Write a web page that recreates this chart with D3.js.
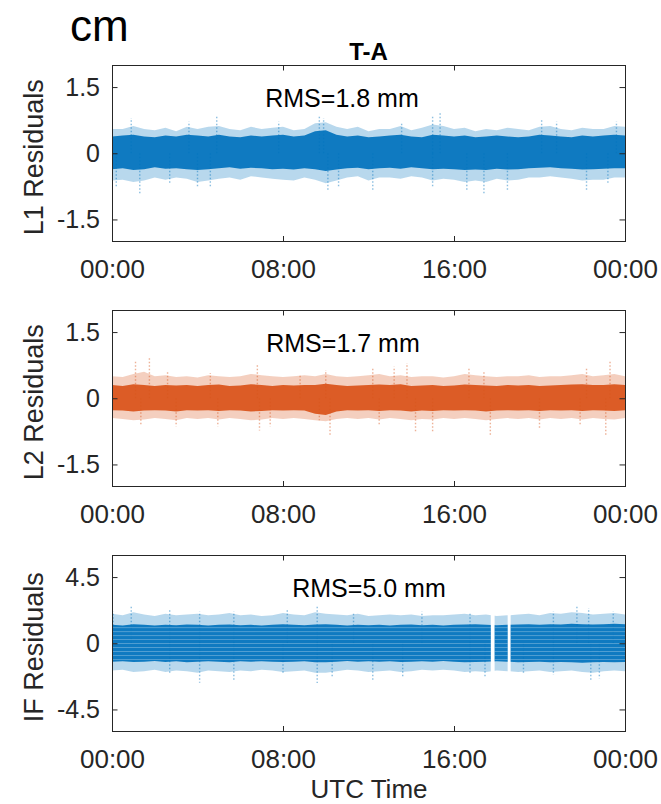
<!DOCTYPE html>
<html>
<head>
<meta charset="utf-8">
<script src="https://cdn.jsdelivr.net/npm/d3@7"></script>
<style>
  body { margin: 0; background: #fff; }
  text { font-family: "Liberation Sans", Arial, Helvetica, sans-serif; }
</style>
</head>
<body>
<svg width="661" height="804"></svg>
<script>
// half-hour time grid, hours UTC
const hours = d3.range(0, 24.5, 0.5);
const timeTicks = [0, 8, 16, 24];
const timeLabels = ["00:00", "08:00", "16:00", "00:00"];

// L1 residuals (cm): envelope of the scatter
const l1OuterHi = [.55,.55,.62,.55,.52,.58,.5,.6,.55,.6,.62,.55,.52,.6,.55,.58,.6,.52,.55,.68,.7,.6,.55,.6,.5,.55,.55,.62,.52,.58,.65,.62,.55,.58,.5,.55,.52,.58,.55,.52,.6,.62,.55,.52,.58,.55,.55,.62,.6];
const l1OuterLo = [-.62,-.6,-.65,-.62,-.55,-.6,-.55,-.58,-.65,-.62,-.58,-.55,-.6,-.52,-.55,-.58,-.6,-.62,-.55,-.6,-.68,-.62,-.55,-.52,-.62,-.55,-.55,-.58,-.52,-.55,-.62,-.58,-.6,-.65,-.62,-.65,-.58,-.62,-.6,-.55,-.55,-.52,-.55,-.58,-.62,-.6,-.6,-.55,-.55];
const l1CoreHi = [.38,.4,.42,.38,.36,.4,.38,.42,.4,.38,.42,.38,.36,.4,.38,.4,.42,.38,.4,.5,.52,.42,.38,.4,.36,.38,.4,.42,.38,.36,.42,.4,.38,.4,.36,.38,.4,.38,.36,.38,.42,.4,.38,.36,.4,.38,.4,.42,.4];
const l1CoreLo = [-.36,-.34,-.38,-.36,-.32,-.35,-.34,-.36,-.38,-.36,-.34,-.32,-.35,-.33,-.34,-.36,-.35,-.37,-.34,-.36,-.4,-.37,-.34,-.33,-.36,-.34,-.33,-.35,-.32,-.34,-.36,-.35,-.36,-.38,-.37,-.38,-.35,-.37,-.36,-.34,-.33,-.32,-.34,-.35,-.37,-.36,-.35,-.34,-.34];
const l1Spikes = [[0.9,.8],[3.6,.72],[4.9,.87],[7.8,.72],[9.7,.83],[9.9,.8],[13.55,.68],[15.0,.83],[15.35,.95],[20.1,.76],[20.8,.72],[23.6,.72],
  [0.2,-.76],[1.3,-.91],[2.7,-.68],[4.0,-.76],[4.6,-.76],[10.1,-.87],[10.6,-.76],[12.2,-.87],[15.0,-.76],[16.6,-.83],[17.4,-.91],[18.5,-.87],[22.2,-.83],[23.2,-.68]];

// L2 residuals (cm)
const l2OuterHi = [.5,.48,.55,.6,.5,.52,.48,.5,.47,.52,.5,.48,.5,.55,.52,.5,.48,.5,.52,.5,.55,.5,.48,.5,.52,.55,.5,.52,.48,.5,.5,.47,.5,.55,.52,.5,.48,.5,.5,.52,.48,.5,.5,.52,.55,.5,.52,.55,.5];
const l2OuterLo = [-.45,-.47,-.5,-.48,-.45,-.47,-.5,-.45,-.47,-.45,-.48,-.45,-.47,-.5,-.48,-.45,-.47,-.45,-.47,-.5,-.52,-.47,-.45,-.47,-.45,-.48,-.45,-.47,-.5,-.47,-.48,-.45,-.47,-.45,-.47,-.5,-.47,-.45,-.47,-.45,-.48,-.45,-.47,-.45,-.48,-.45,-.47,-.48,-.45];
const l2CoreHi = [.3,.28,.32,.3,.28,.3,.29,.3,.28,.3,.31,.28,.29,.32,.3,.28,.3,.29,.3,.3,.33,.3,.28,.29,.3,.31,.3,.32,.28,.29,.3,.28,.29,.31,.3,.29,.28,.3,.29,.3,.28,.29,.3,.31,.32,.3,.3,.32,.3];
const l2CoreLo = [-.27,-.28,-.3,-.28,-.27,-.28,-.3,-.27,-.28,-.27,-.29,-.27,-.28,-.3,-.29,-.27,-.28,-.27,-.28,-.35,-.38,-.3,-.27,-.28,-.27,-.29,-.27,-.28,-.3,-.28,-.29,-.27,-.28,-.27,-.28,-.3,-.28,-.27,-.28,-.27,-.29,-.27,-.28,-.27,-.29,-.27,-.28,-.29,-.27];
const l2Spikes = [[1.1,.87],[1.75,.92],[2.6,.6],[4.6,.57],[6.8,.76],[8.8,.53],[10.0,.64],[12.2,.68],[13.2,.72],[13.8,.8],[16.7,.68],[17.4,.6],[22.2,.68],[23.3,.83],
  [1.35,-.6],[3.0,-.64],[4.95,-.64],[6.9,-.73],[7.4,-.64],[9.7,-.5],[10.2,-.87],[12.5,-.6],[14.2,-.76],[15.0,-.76],[17.7,-.87],[20.0,-.68],[21.9,-.6],[23.1,-.83]];

// IF residuals (cm)
const ifOuterHi = [2.0,1.9,2.1,1.95,1.85,2.0,1.9,1.95,2.0,1.9,1.95,2.05,1.9,1.95,1.85,1.9,2.05,1.95,1.9,2.1,2.0,1.95,1.9,2.0,1.85,1.9,1.95,1.9,1.95,1.85,1.9,1.9,1.95,2.0,1.9,1.95,1.85,1.9,1.95,2.0,1.9,2.05,2.0,2.1,2.05,1.95,2.0,2.05,1.95];
const ifOuterLo = [-1.85,-1.8,-1.95,-1.9,-1.8,-1.95,-1.85,-1.9,-2.0,-1.85,-1.9,-1.95,-1.85,-1.9,-1.8,-1.85,-1.95,-1.9,-1.85,-2.0,-2.0,-1.9,-1.8,-1.85,-1.95,-1.9,-1.85,-1.95,-1.9,-1.8,-1.85,-1.8,-1.85,-1.95,-1.9,-1.95,-1.85,-1.9,-1.95,-1.9,-1.85,-1.95,-1.9,-1.85,-1.95,-2.0,-1.9,-1.85,-1.9];
const ifCoreHi = [1.25,1.2,1.3,1.25,1.2,1.25,1.22,1.28,1.25,1.2,1.25,1.28,1.22,1.25,1.2,1.25,1.3,1.25,1.22,1.28,1.3,1.25,1.2,1.25,1.22,1.25,1.2,1.25,1.28,1.22,1.25,1.2,1.25,1.28,1.3,1.25,1.22,1.25,1.28,1.3,1.25,1.3,1.28,1.32,1.3,1.28,1.3,1.32,1.3];
const ifCoreLo = [-1.25,-1.22,-1.28,-1.25,-1.2,-1.28,-1.22,-1.3,-1.25,-1.22,-1.25,-1.3,-1.22,-1.25,-1.22,-1.25,-1.28,-1.25,-1.22,-1.3,-1.3,-1.25,-1.2,-1.25,-1.22,-1.25,-1.22,-1.28,-1.25,-1.22,-1.25,-1.2,-1.25,-1.3,-1.28,-1.25,-1.22,-1.25,-1.3,-1.28,-1.25,-1.3,-1.28,-1.3,-1.32,-1.3,-1.28,-1.3,-1.28];
const ifSpikes = [[0.05,2.16],[0.9,2.6],[2.7,2.27],[4.1,2.16],[5.7,2.16],[8.2,2.27],[9.6,2.6],[11.3,2.05],[14.5,2.16],[16.75,2.05],[20.65,2.16],[21.75,2.6],[22.3,2.4],[23.45,2.16],
  [2.7,-2.05],[4.1,-2.68],[5.7,-2.6],[8.0,-2.05],[9.6,-2.7],[10.3,-2.27],[12.2,-2.5],[13.6,-2.27],[16.75,-2.05],[17.45,-2.27],[19.25,-2.05],[20.65,-2.16],[22.4,-2.6],[22.8,-2.4]];
const ifLevels = [-1.1,-0.83,-0.56,-0.29,-0.02,0.25,0.52,0.79,1.06];
const ifGaps = [[17.72,17.9],[18.51,18.65]];

const panels = [
  {name:"L1 Residuals", color:"#0072BD", domain:[-2,2], ticks:[-1.5,0,1.5], tickLabels:["-1.5","0","1.5"], rms:"RMS=1.8 mm", rmsX:342,
   hi:l1OuterHi, lo:l1OuterLo, ch:l1CoreHi, cl:l1CoreLo, spikes:l1Spikes, levels:[], gaps:[]},
  {name:"L2 Residuals", color:"#D95319", domain:[-2,2], ticks:[-1.5,0,1.5], tickLabels:["-1.5","0","1.5"], rms:"RMS=1.7 mm", rmsX:343,
   hi:l2OuterHi, lo:l2OuterLo, ch:l2CoreHi, cl:l2CoreLo, spikes:l2Spikes, levels:[], gaps:[]},
  {name:"IF Residuals", color:"#0072BD", domain:[-6,6], ticks:[-4.5,0,4.5], tickLabels:["-4.5","0","4.5"], rms:"RMS=5.0 mm", rmsX:369,
   hi:ifOuterHi, lo:ifOuterLo, ch:ifCoreHi, cl:ifCoreLo, spikes:ifSpikes, levels:ifLevels, gaps:ifGaps}
];

const svg = d3.select("svg");
const left = 112, right = 625, panelH = 176.5;
const panelTop = [65, 310, 555];
const ink = "#262626";

const x = d3.scaleLinear().domain([0, 24]).range([left, right]);

panels.forEach((p, i) => {
  const top = panelTop[i], bottom = top + panelH;
  const y = d3.scaleLinear().domain(p.domain).range([bottom, top]);
  const g = svg.append("g");

  // clip the plot area, leaving out data gaps
  const segs = [];
  let s = 0;
  p.gaps.forEach(gp => { segs.push([s, gp[0]]); s = gp[1]; });
  segs.push([s, 24]);
  g.append("clipPath").attr("id", "clip" + i)
    .selectAll("rect").data(segs).join("rect")
    .attr("x", d => x(d[0])).attr("width", d => x(d[1]) - x(d[0]))
    .attr("y", top).attr("height", panelH);

  const plot = g.append("g").attr("clip-path", `url(#clip${i})`);
  const rows = hours.map((t, k) => ({t, hi:p.hi[k], lo:p.lo[k], ch:p.ch[k], cl:p.cl[k]}));

  plot.append("path").datum(rows)
    .attr("d", d3.area().x(d => x(d.t)).y0(d => y(d.lo)).y1(d => y(d.hi)))
    .attr("fill", p.color).attr("opacity", 0.28);

  plot.selectAll("line.spike").data(p.spikes).join("line")
    .attr("class", "spike")
    .attr("x1", d => x(d[0])).attr("x2", d => x(d[0]))
    .attr("y1", y(0)).attr("y2", d => y(d[1]))
    .attr("stroke", p.color).attr("stroke-width", 1.4)
    .attr("stroke-dasharray", "1.5,2").attr("opacity", 0.45);

  plot.append("path").datum(rows)
    .attr("d", d3.area().x(d => x(d.t)).y0(d => y(d.cl)).y1(d => y(d.ch)))
    .attr("fill", p.color).attr("opacity", 0.92);

  plot.selectAll("line.level").data(p.levels).join("line")
    .attr("class", "level")
    .attr("x1", left).attr("x2", right)
    .attr("y1", d => y(d)).attr("y2", d => y(d))
    .attr("stroke", "#fff").attr("stroke-width", 0.8).attr("opacity", 0.35);

  // axes, MATLAB style: ticks inside, box on
  const xb = g.append("g").attr("transform", `translate(0,${bottom})`)
    .call(d3.axisBottom(x).tickValues(timeTicks).tickFormat((d, k) => timeLabels[k]).tickSize(-5.5).tickPadding(18));
  const xt = g.append("g").attr("transform", `translate(0,${top})`)
    .call(d3.axisTop(x).tickValues(timeTicks).tickFormat("").tickSize(-5.5));
  const yl = g.append("g").attr("transform", `translate(${left},0)`)
    .call(d3.axisLeft(y).tickValues(p.ticks).tickFormat((d, k) => p.tickLabels[k]).tickSize(-5.5).tickPadding(12));
  const yr = g.append("g").attr("transform", `translate(${right},0)`)
    .call(d3.axisRight(y).tickValues(p.ticks).tickFormat("").tickSize(-5.5));

  [xb, xt, yl, yr].forEach(a => {
    a.select(".domain").remove();
    a.attr("color", ink).attr("font-family", null);
    a.selectAll("line").attr("stroke", ink);
  });
  xb.attr("font-size", 26);
  yl.attr("font-size", 25);

  g.append("rect")
    .attr("x", left).attr("y", top).attr("width", right - left).attr("height", panelH)
    .attr("fill", "none").attr("stroke", ink).attr("stroke-width", 1)
    .attr("shape-rendering", "crispEdges");

  g.append("text")
    .attr("transform", `translate(43,${(top + bottom) / 2 + 4}) rotate(-90)`)
    .attr("text-anchor", "middle").attr("font-size", 27).attr("fill", ink)
    .text(p.name);

  g.append("text")
    .attr("x", p.rmsX).attr("y", top + 42)
    .attr("text-anchor", "middle").attr("font-size", 25).attr("fill", "#000")
    .text(p.rms);
});

svg.append("text").attr("x", 70).attr("y", 41).attr("font-size", 44).attr("fill", "#000").text("cm");
svg.append("text").attr("x", (left + right) / 2).attr("y", 60).attr("text-anchor", "middle")
  .attr("font-size", 24).attr("font-weight", "bold").attr("fill", "#000").text("T-A");
svg.append("text").attr("x", 369).attr("y", 798).attr("text-anchor", "middle")
  .attr("font-size", 26).attr("fill", ink).text("UTC Time");
</script>
</body>
</html>
